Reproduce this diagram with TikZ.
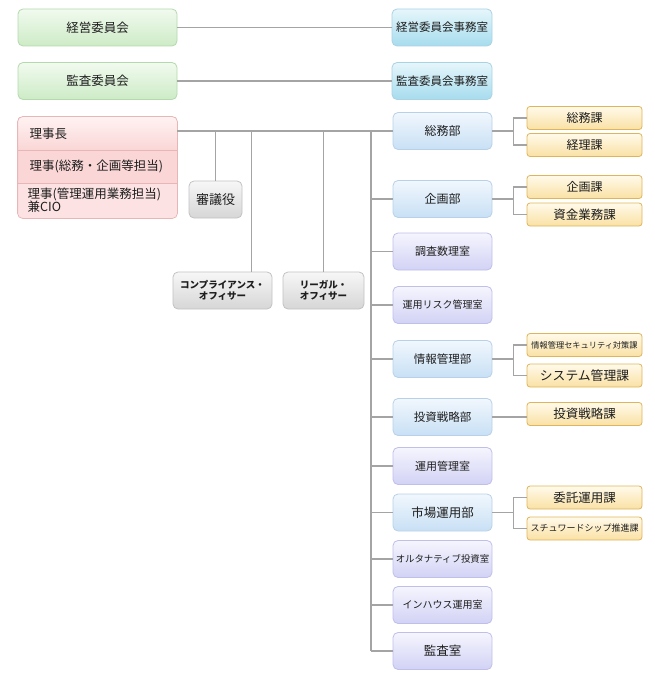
\documentclass[tikz,border=0pt]{standalone}
\usepackage{fontspec}
\setmainfont{Noto Sans CJK JP}
\usetikzlibrary{calc}

\definecolor{linegray}{HTML}{A4A4A4}
\definecolor{textgray}{HTML}{1E1E1E}
\definecolor{greentop}{HTML}{F1FAEF}
\definecolor{greenbot}{HTML}{CDEBC6}
\definecolor{greenline}{HTML}{B4D9AC}
\definecolor{cyantop}{HTML}{E6F6FB}
\definecolor{cyanbot}{HTML}{A6DCEE}
\definecolor{cyanline}{HTML}{A9D3E3}
\definecolor{bluetop}{HTML}{F1F7FD}
\definecolor{bluebot}{HTML}{C8E0F5}
\definecolor{blueline}{HTML}{B8D0E8}
\definecolor{lavtop}{HTML}{F5F5FE}
\definecolor{lavbot}{HTML}{D2D2F5}
\definecolor{lavline}{HTML}{BFBFEA}
\definecolor{yeltop}{HTML}{FFFAEA}
\definecolor{yelbot}{HTML}{FAE1A4}
\definecolor{yelline}{HTML}{DFB45C}
\definecolor{greytop}{HTML}{F7F7F7}
\definecolor{greybot}{HTML}{D6D6D6}
\definecolor{greyline}{HTML}{C2C2C2}
\definecolor{pinktop}{HTML}{FFF2F2}
\definecolor{pinkmid}{HTML}{FAD6D6}
\definecolor{pinkbot}{HTML}{FCE2E2}
\definecolor{pinkline}{HTML}{E8B6B6}

\newcommand{\fsz}[1]{\fontsize{#1}{#1}\selectfont}

\tikzset{
  box/.style={draw, rounded corners=5pt, line width=0.8pt, inner sep=0pt,
    align=center, text=textgray, font=\fsz{12}},
  committee/.style={box, draw=greenline, top color=greentop, bottom color=greenbot,
    minimum width=159pt, minimum height=37pt, font=\fsz{12.5}},
  office/.style={box, draw=cyanline, top color=cyantop, bottom color=cyanbot,
    minimum width=100pt, minimum height=37pt, font=\fsz{11.5}},
  dept/.style={box, draw=blueline, top color=bluetop, bottom color=bluebot,
    minimum width=99pt, minimum height=37pt},
  room/.style={box, draw=lavline, top color=lavtop, bottom color=lavbot,
    minimum width=99pt, minimum height=37pt},
  section/.style={box, draw=yelline, top color=yeltop, bottom color=yelbot,
    minimum width=115pt, minimum height=23pt, rounded corners=3pt},
  advisor/.style={box, draw=greyline, top color=greytop, bottom color=greybot,
    minimum height=37pt},
  conn/.style={draw=linegray, line width=1.1pt},
}

\begin{document}
\begin{tikzpicture}[x=1pt, y=-1pt]
    \useasboundingbox (0,0) rectangle (655,690);

    % committees and their offices
    \node[committee] (keiei) at (97.5, 27.5) {経営委員会};
    \node[committee] (kansaI) at (97.5, 81) {監査委員会};
    \node[office] (keieiJ) at (442, 27.5) {経営委員会事務室};
    \node[office] (kansaJ) at (442, 81) {監査委員会事務室};

    % board
    \node[box, draw=none, fill=pinkbot, minimum width=159pt, minimum height=101pt]
        (rjbox) at (97.5, 167.5) {};
    \begin{scope}
        \clip[rounded corners=5pt] (rjbox.north west) rectangle (rjbox.south east);
        \fill[top color=pinktop, bottom color=pinkmid] (18,117) rectangle (177,150);
        \fill[pinkmid] (18,150) rectangle (177,183);
    \end{scope}
    \draw[pinkline, line width=0.8pt] (18,150) -- (177,150);
    \draw[pinkline, line width=0.8pt] (18,183) -- (177,183);
    \draw[pinkline, line width=0.8pt, rounded corners=5pt]
        (rjbox.north west) rectangle (rjbox.south east);
    \node[anchor=west, text=textgray, font=\fsz{12.5}] (rjA) at (26, 133.5) {理事長};
    \node[anchor=west, text=textgray, font=\fsz{12.5}] (rjB) at (26, 166.5) {理事(総務・企画等担当)};
    \node[anchor=west, text=textgray, font=\fsz{12.5}, align=left, inner sep=0pt]
        (rjC) at (27.5, 200.5) {理事(管理運用業務担当)\\[-1pt]兼CIO};

    % advisors
    \node[advisor, minimum width=53pt, font=\fsz{13}] (shingi) at (215.5, 199.5) {審議役};
    \node[advisor, minimum width=99pt, font=\bfseries\fsz{9.5}] (comp) at (222.5, 290.5)
        {コンプライアンス・\\[2pt]オフィサー};
    \node[advisor, minimum width=81pt, font=\bfseries\fsz{9.5}] (legal) at (323.5, 290.5)
        {リーガル・\\[2pt]オフィサー};

    % departments and rooms
    \node[dept] (soumu) at (442.5, 131) {総務部};
    \node[dept] (kikaku) at (442.5, 199) {企画部};
    \node[room, font=\fsz{11}] (chousa) at (442.5, 251.5) {調査数理室};
    \node[room, font=\fsz{10}] (risk) at (442.5, 305) {運用リスク管理室};
    \node[dept, font=\fsz{11.5}] (joho) at (442.5, 359) {情報管理部};
    \node[dept, font=\fsz{11.5}] (toushi) at (442.5, 417) {投資戦略部};
    \node[room, font=\fsz{11}] (unyo) at (442.5, 466) {運用管理室};
    \node[dept, font=\fsz{12.5}] (shijo) at (442.5, 512.5) {市場運用部};
    \node[room, font=\fsz{9.4}] (alt) at (442.5, 559) {オルタナティブ投資室};
    \node[room, font=\fsz{10}] (inhouse) at (442.5, 605) {インハウス運用室};
    \node[room, font=\fsz{12.5}] (kansashitsu) at (442.5, 651) {監査室};

    % sections
    \node[section] (soumuka) at (584.5, 118) {総務課};
    \node[section] (keirika) at (584.5, 145) {経理課};
    \node[section] (kikakuka) at (584.5, 187) {企画課};
    \node[section, font=\fsz{12.5}] (shikinka) at (584.5, 214.5) {資金業務課};
    \node[section, font=\fsz{8.2}] (secka) at (584.5, 345) {情報管理セキュリティ対策課};
    \node[section, font=\fsz{12.8}] (sysKa) at (584.5, 375.5) {システム管理課};
    \node[section, font=\fsz{12.5}] (toushika) at (584.5, 414) {投資戦略課};
    \node[section, font=\fsz{12.5}] (itakuka) at (584.5, 497.5) {委託運用課};
    \node[section, font=\fsz{9}] (stewka) at (584.5, 528.5) {スチュワードシップ推進課};

    % connectors
    \draw[conn] (keiei.east) -- (keieiJ.west);
    \draw[conn] (kansaI.east) -- (kansaJ.west);
    \coordinate (trunk) at (371, 0);
    \draw[conn] (rjbox.east |- soumu.west) -- (soumu.west);
    \draw[conn] (soumu.west -| trunk) -- (kansashitsu.west -| trunk);
    \foreach \d in {kikaku, chousa, risk, joho, toushi, unyo, shijo, alt, inhouse, kansashitsu}
        \draw[conn] (\d.west -| trunk) -- (\d.west);
    \draw[conn] (shingi.north) -- (shingi.north |- soumu.west);
    \draw[conn] ([xshift=-21pt]comp.north east) -- ([xshift=-21pt]comp.north east |- soumu.west);
    \draw[conn] (legal.north) -- (legal.north |- soumu.west);

    \draw[conn] (soumu.east) -- ++(21,0);
    \draw[conn] (soumuka.west) -| ([xshift=21pt]soumu.east) |- (keirika.west);
    \draw[conn] (kikaku.east) -- ++(21,0);
    \draw[conn] (kikakuka.west) -| ([xshift=21pt]kikaku.east) |- (shikinka.west);
    \draw[conn] (joho.east) -- ++(21,0);
    \draw[conn] (secka.west) -| ([xshift=21pt]joho.east) |- (sysKa.west);
    \draw[conn] (toushi.east) -- (toushi.east -| toushika.west);
    \draw[conn] (shijo.east) -- ++(21,0);
    \draw[conn] (itakuka.west) -| ([xshift=21pt]shijo.east) |- (stewka.west);
\end{tikzpicture}
\end{document}
